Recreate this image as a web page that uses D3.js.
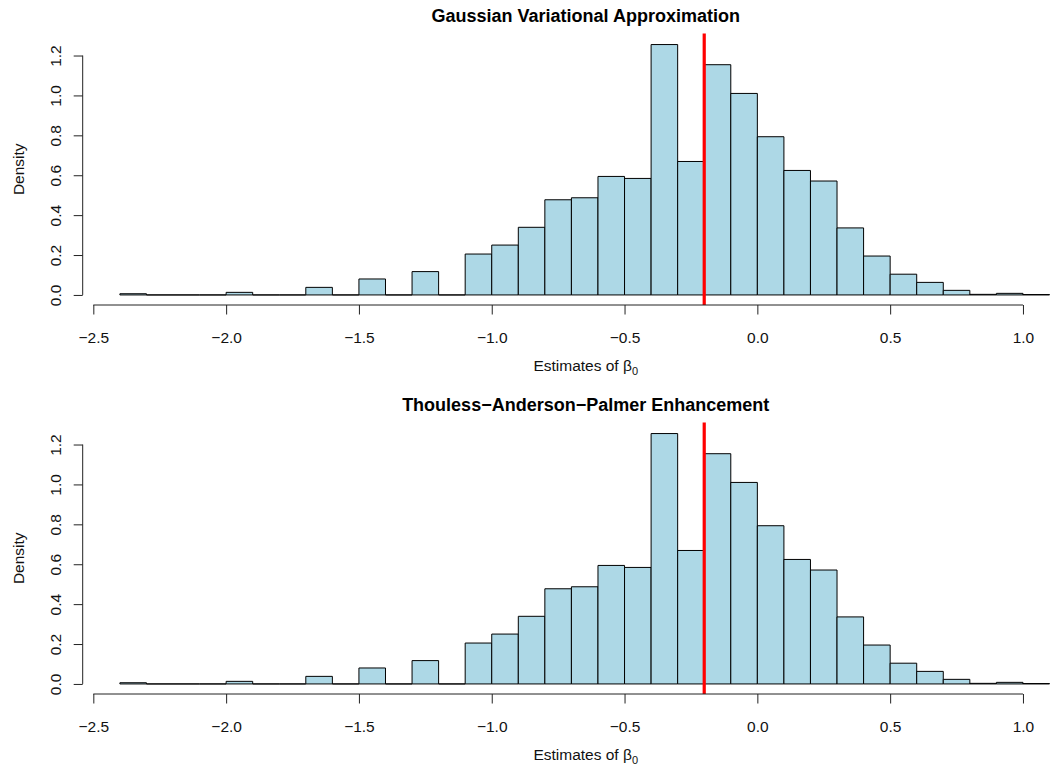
<!DOCTYPE html>
<html>
<head>
<meta charset="utf-8">
<script src="https://cdn.jsdelivr.net/npm/d3@7"></script>
<style>
  html, body { margin: 0; padding: 0; background: #fff; }
  svg { display: block; font-family: "Liberation Sans", Arial, Helvetica, sans-serif; }
</style>
</head>
<body>
<svg id="chart" width="1051" height="766"></svg>
<script>
// ---- data ----
const binStarts = [-2.4, -2.3, -2.2, -2.1, -2.0, -1.9, -1.8, -1.7, -1.6, -1.5, -1.4, -1.3, -1.2, -1.1,
                   -1.0, -0.9, -0.8, -0.7, -0.6, -0.5, -0.4, -0.3, -0.2, -0.1, 0.0, 0.1, 0.2, 0.3,
                   0.4, 0.5, 0.6, 0.7, 0.8, 0.9, 1.0];
const binWidth = 0.1;
const gvaDensity = [0.006, 0, 0, 0, 0.013, 0, 0, 0.038, 0, 0.080, 0, 0.117, 0, 0.205,
                    0.250, 0.339, 0.477, 0.487, 0.594, 0.584, 1.255, 0.669, 1.154, 1.010, 0.793, 0.624, 0.571, 0.336,
                    0.195, 0.104, 0.063, 0.023, 0.003, 0.008, 0.002];
const tapDensity = [0.006, 0, 0, 0, 0.013, 0, 0, 0.038, 0, 0.080, 0, 0.117, 0, 0.205,
                    0.250, 0.339, 0.477, 0.487, 0.594, 0.584, 1.255, 0.669, 1.154, 1.010, 0.793, 0.624, 0.571, 0.336,
                    0.195, 0.104, 0.063, 0.023, 0.003, 0.008, 0.002];
const xTicks = [-2.5, -2.0, -1.5, -1.0, -0.5, 0.0, 0.5, 1.0];
const yTicks = [0.0, 0.2, 0.4, 0.6, 0.8, 1.0, 1.2];
const trueValue = -0.2;
const titles = ["Gaussian Variational Approximation", "Thouless\u2212Anderson\u2212Palmer Enhancement"];

// ---- layout ----
const svg = d3.select("#chart");
const x = d3.scaleLinear().domain([-2.54, 1.24]).range([82.7, 1086.7]);
const y = d3.scaleLinear().domain([-0.0504, 1.3104]).range([305, 33.5]);
const fmt = d3.format(".1f");
const panelOffset = 389;

function drawPanel(offset, title, density) {
  const g = svg.append("g").attr("transform", `translate(0,${offset})`);

  // bars
  g.append("g").selectAll("path").data(binStarts).join("path")
    .attr("d", (s, i) => {
      const x0 = x(s), x1 = x(s + binWidth), y0 = y(0), y1 = y(density[i]);
      return `M${x0},${y0}L${x0},${y1}L${x1},${y1}L${x1},${y0}Z`;
    })
    .attr("fill", "#ADD8E6")
    .attr("stroke", "#000")
    .attr("stroke-width", 1);

  // reference line
  g.append("line")
    .attr("x1", x(trueValue)).attr("x2", x(trueValue))
    .attr("y1", y.range()[1]).attr("y2", y.range()[0])
    .attr("stroke", "#FF0000").attr("stroke-width", 3.2);

  // x axis
  const xa = g.append("g").attr("transform", `translate(0,${y.range()[0]})`)
    .call(d3.axisBottom(x).tickValues(xTicks).tickFormat(fmt).tickSize(9.5).tickSizeOuter(0));
  xa.select(".domain").remove();
  xa.append("line").attr("x1", x(xTicks[0])).attr("x2", x(xTicks[xTicks.length - 1]))
    .attr("stroke", "#222");
  xa.selectAll(".tick line").attr("stroke", "#222");
  xa.selectAll(".tick text").attr("y", 37.5).attr("dy", 0)
    .attr("font-size", 15.5).attr("fill", "#111").attr("font-family", null);

  // y axis
  const ya = g.append("g").attr("transform", `translate(${x.range()[0]},0)`)
    .call(d3.axisLeft(y).tickValues(yTicks).tickFormat(fmt).tickSize(9).tickSizeOuter(0));
  ya.select(".domain").remove();
  ya.append("line").attr("y1", y(yTicks[0])).attr("y2", y(yTicks[yTicks.length - 1]))
    .attr("stroke", "#222");
  ya.selectAll(".tick line").attr("stroke", "#222");
  ya.selectAll(".tick text")
    .attr("x", null).attr("dy", null)
    .attr("transform", "translate(-21.7,0) rotate(-90)")
    .attr("text-anchor", "middle")
    .attr("font-size", 15.5).attr("fill", "#111").attr("font-family", null);

  // title
  const cx = (x.range()[0] + x.range()[1]) / 2;
  g.append("text").attr("x", cx + 1).attr("y", 22)
    .attr("text-anchor", "middle").attr("font-weight", "bold").attr("font-size", 18)
    .attr("fill", "#000").text(title);

  // x label
  const xl = g.append("text").attr("x", cx + 1).attr("y", 371)
    .attr("text-anchor", "middle").attr("font-size", 15.5).attr("fill", "#111");
  xl.append("tspan").text("Estimates of \u03B2");
  xl.append("tspan").attr("font-size", 11).attr("dy", 4).text("0");

  // y label
  const ymid = (y.range()[0] + y.range()[1]) / 2;
  g.append("text").attr("transform", `translate(23.5,${ymid}) rotate(-90)`)
    .attr("text-anchor", "middle").attr("font-size", 15.5).attr("fill", "#111")
    .text("Density");
}

drawPanel(0, titles[0], gvaDensity);
drawPanel(panelOffset, titles[1], tapDensity);
</script>
</body>
</html>
